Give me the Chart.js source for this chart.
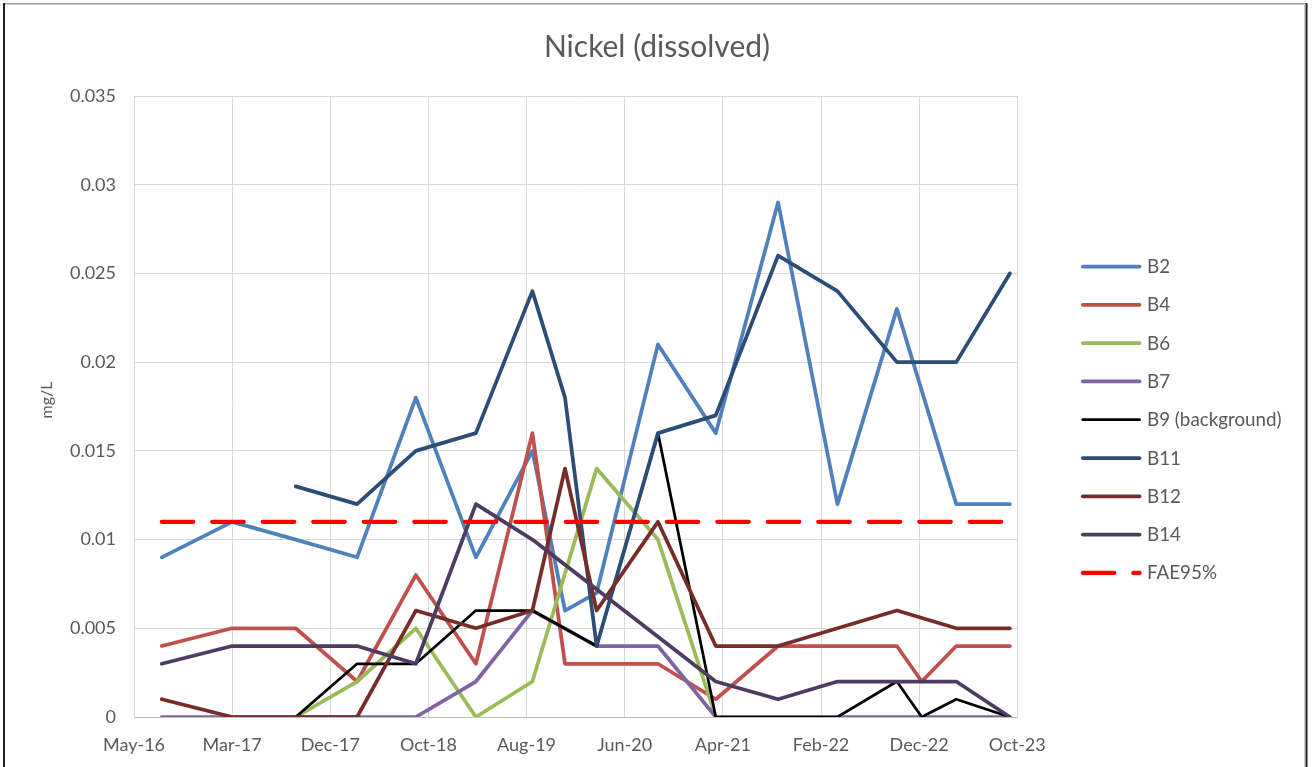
<!DOCTYPE html>
<html><head><meta charset="utf-8">
<script src="https://cdn.jsdelivr.net/npm/chart.js@4.4.1/dist/chart.umd.min.js"></script>
<style>html,body{margin:0;padding:0;background:#fff;}canvas{display:block;}</style>
</head><body>
<canvas id="c" width="1314" height="767"></canvas>
<script>
// ---- data ----
const axisStart = "2016-05-01";
const tickStepDays = 304;
const tickLabels = ["May-16","Mar-17","Dec-17","Oct-18","Aug-19","Jun-20","Apr-21","Feb-22","Dec-22","Oct-23"];
const sampleDates = ["2016-07-26","2017-03-01","2017-09-14","2018-03-23","2018-09-21","2019-03-26","2019-09-17","2019-12-27","2020-04-03","2020-10-10","2021-04-07","2021-10-17","2022-04-19","2022-10-20","2023-01-05","2023-04-22","2023-10-05"];
const seriesNames = ["B2","B4","B6","B7","B9 (background)","B11","B12","B14","FAE95%"];
const B2  = [0.009,0.011,0.010,0.009,0.018,0.009,0.015,0.006,0.007,0.021,0.016,0.029,0.012,0.023,null,0.012,0.012];
const B4  = [0.004,0.005,0.005,0.002,0.008,0.003,0.016,0.003,0.003,0.003,0.001,0.004,0.004,0.004,0.002,0.004,0.004];
const B6  = [null,null,0,0.002,0.005,0,0.002,null,0.014,0.010,0,null,null,null,null,null,null];
const B7  = [0,0,0,0,0,0.002,0.006,null,0.004,0.004,0,0,0,0,0,0,0];
const B9  = [null,null,0,0.003,0.003,0.006,0.006,null,0.004,0.016,0,0,0,0.002,0,0.001,0];
const B11 = [null,null,0.013,0.012,0.015,0.016,0.024,0.018,0.004,0.016,0.017,0.026,0.024,0.020,null,0.020,0.025];
const B12 = [0.001,0,0,0,0.006,0.005,0.006,0.014,0.006,0.011,0.004,0.004,0.005,0.006,null,0.005,0.005];
const B14 = [0.003,0.004,0.004,0.004,0.003,0.012,0.010,null,null,null,0.002,0.001,0.002,0.002,0.002,0.002,0];
const FAE95 = [0.011,0.011,0.011,0.011,0.011,0.011,0.011,0.011,0.011,0.011,0.011,0.011,0.011,0.011,0.011,0.011,0.011];
const seriesValues = [B2,B4,B6,B7,B9,B11,B12,B14,FAE95];
const chartTitle = "Nickel (dissolved)";
const yAxisTitle = "mg/L";

// ---- styles ----
const seriesColors = ["#4F81BD","#C0504D","#9BBB59","#8064A2","#000000","#2C4D75","#772C2A","#4D3B62","#FF0000"];
const seriesWidths = [3.75,3.75,3.75,3.75,2.75,3.75,3.75,3.75,4.25];
const seriesDash = [[],[],[],[],[],[],[],[],[31.5,19]];
const FONT = "Lato";
const TXT = "#595959";

const dayOf = s => (Date.parse(s) - Date.parse(axisStart)) / 864e5;
const xs = sampleDates.map(dayOf);
const n = seriesNames.length;

const datasets = seriesNames.map((name, i) => ({
  label: name,
  data: seriesValues[i].map((v, j) => ({x: xs[j], y: v})),
  borderColor: seriesColors[i],
  backgroundColor: seriesColors[i],
  borderWidth: seriesWidths[i],
  borderDash: seriesDash[i],
  borderCapStyle: 'round',
  borderJoinStyle: 'round',
  pointRadius: 0,
  pointHoverRadius: 0,
  tension: 0,
  spanGaps: true,
  fill: false,
  order: n - i
}));

const framePlugin = {
  id: 'frame',
  beforeDraw(chart) {
    const ctx = chart.ctx;
    ctx.save();
    ctx.fillStyle = '#ffffff';
    ctx.fillRect(0, 0, chart.width, chart.height);
    ctx.fillStyle = '#9c9c9c';
    ctx.fillRect(3, 3, 1304, 1.5);
    ctx.fillStyle = '#c8c8c8';
    ctx.fillRect(1304, 3, 1, chart.height);
    ctx.fillStyle = '#222222';
    ctx.fillRect(3, 3, 2, chart.height);
    ctx.fillRect(1305.5, 3, 2, chart.height);
    ctx.restore();
  },
  afterDraw(chart) {
    const ctx = chart.ctx;
    ctx.save();
    ctx.fillStyle = TXT;
    ctx.textAlign = 'center';
    ctx.textBaseline = 'middle';
    ctx.font = `30px ${FONT}`;
    ctx.fillText(chartTitle, 657, 47);
    ctx.translate(47, 400);
    ctx.rotate(-Math.PI / 2);
    ctx.font = `16px ${FONT}`;
    ctx.fillText(yAxisTitle, 0, 0);
    ctx.restore();
  }
};

const legendPlugin = {
  id: 'sideLegend',
  afterDraw(chart) {
    const ctx = chart.ctx;
    ctx.save();
    chart.data.datasets.forEach((ds, i) => {
      const y = 266.5 + i * 38.3;
      ctx.beginPath();
      ctx.strokeStyle = ds.borderColor;
      ctx.lineWidth = ds.borderWidth;
      ctx.lineCap = 'round';
      ctx.setLineDash(ds.borderDash || []);
      ctx.moveTo(1082.8, y);
      ctx.lineTo(1139.6, y);
      ctx.stroke();
      ctx.setLineDash([]);
      ctx.fillStyle = TXT;
      ctx.font = `18.8px ${FONT}`;
      ctx.textBaseline = 'middle';
      ctx.textAlign = 'left';
      ctx.fillText(ds.label, 1147, y + 0.5);
    });
    ctx.restore();
  }
};

new Chart(document.getElementById('c'), {
  type: 'line',
  data: { datasets },
  plugins: [framePlugin, legendPlugin],
  options: {
    responsive: false,
    animation: false,
    devicePixelRatio: 1,
    layout: { padding: { left: 0, right: 296.7, top: 96, bottom: 0 } },
    plugins: {
      legend: { display: false },
      tooltip: { enabled: false },
      title: { display: false }
    },
    scales: {
      x: {
        type: 'linear',
        min: 0,
        max: tickStepDays * (tickLabels.length - 1),
        afterFit(s) { s.height = 50; },
        grid: { color: '#d9d9d9', lineWidth: 1, drawTicks: false },
        border: { color: '#bfbfbf', width: 1 },
        ticks: {
          stepSize: tickStepDays,
          autoSkip: false,
          maxRotation: 0,
          padding: 17,
          color: TXT,
          font: { family: FONT, size: 18 },
          callback: v => tickLabels[Math.round(v / tickStepDays)]
        }
      },
      y: {
        min: 0,
        max: 0.035,
        afterFit(s) { s.width = 134; },
        grid: { color: '#d9d9d9', lineWidth: 1, drawTicks: false },
        border: { color: '#d9d9d9', width: 1 },
        ticks: {
          stepSize: 0.005,
          padding: 18,
          color: TXT,
          font: { family: FONT, size: 18 },
          callback: v => String(parseFloat(v.toFixed(3)))
        }
      }
    }
  }
});
</script>
</body></html>
